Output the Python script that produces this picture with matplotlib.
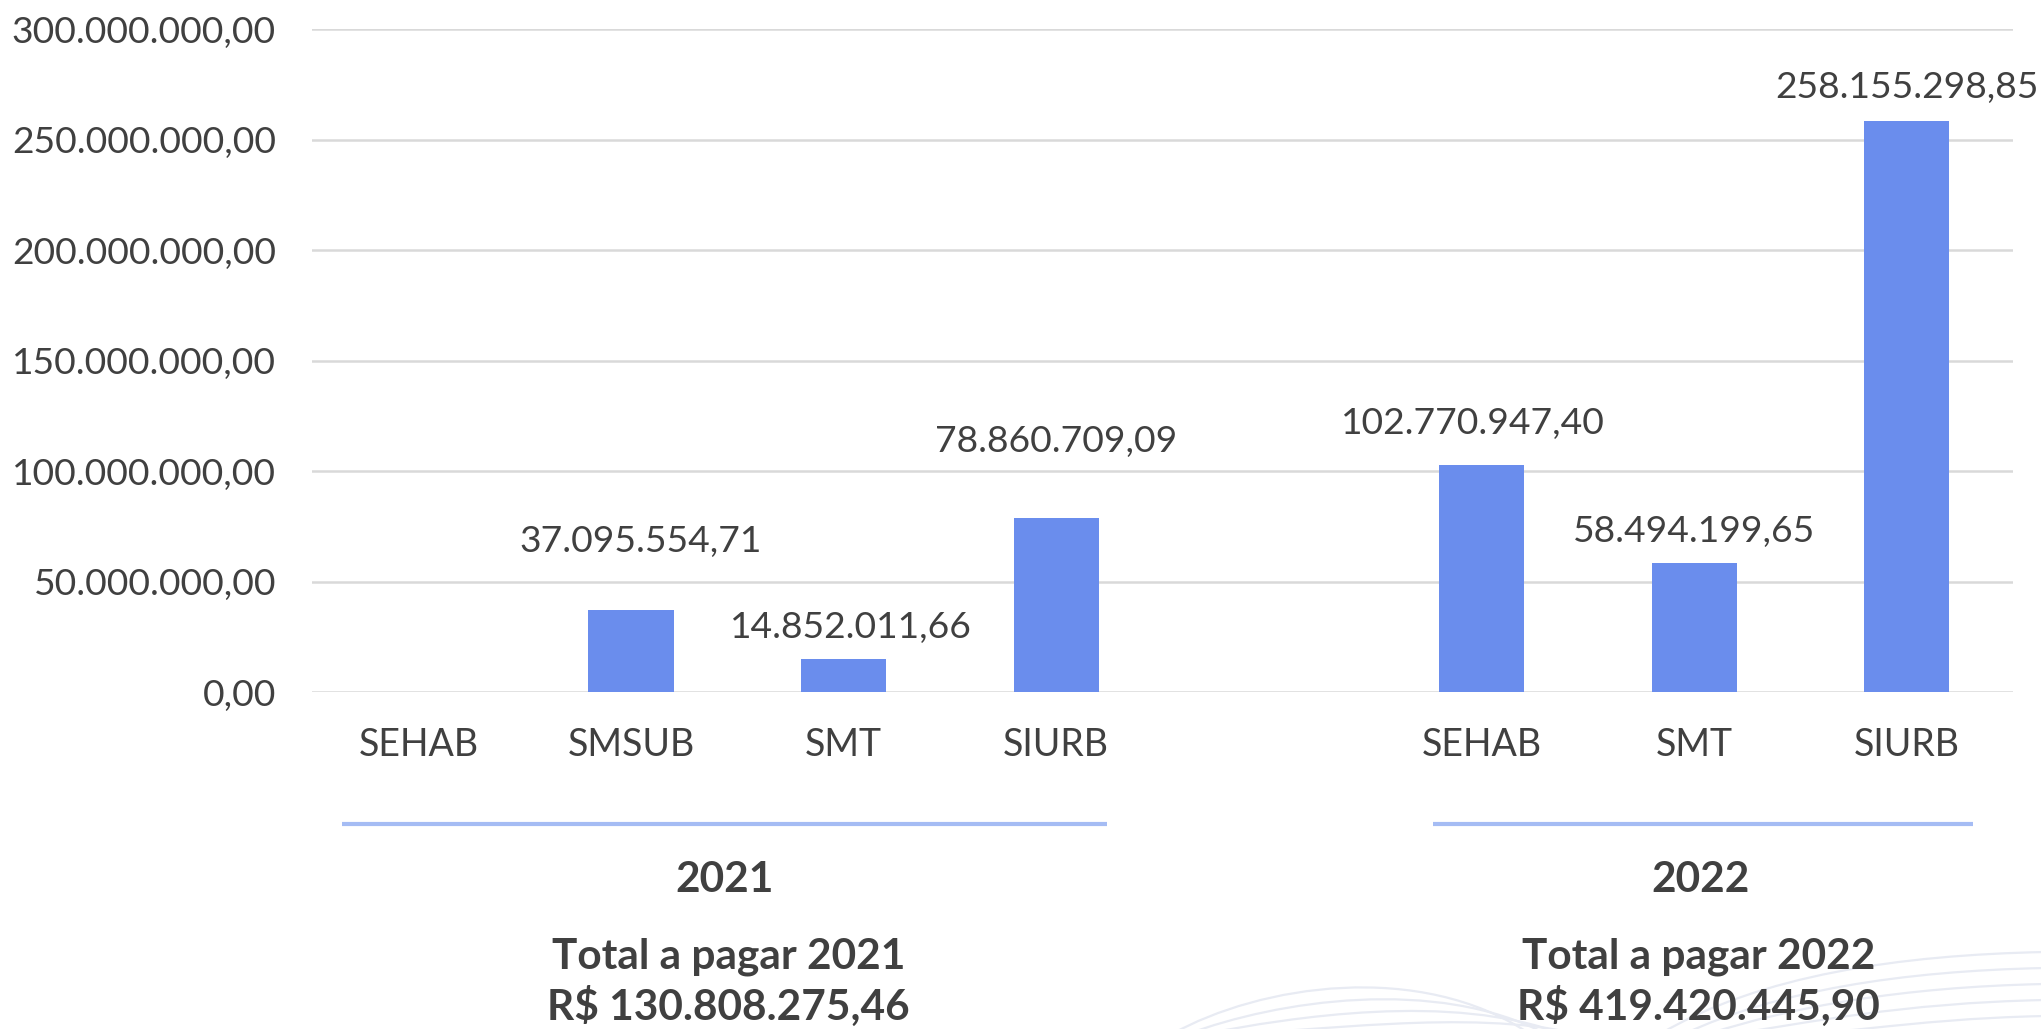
import matplotlib.pyplot as plt
import matplotlib.transforms as mtransforms
from matplotlib.path import Path
from matplotlib.patches import PathPatch

plt.rcParams['font.family'] = ['Lato', 'DejaVu Sans']

# data
categories = ["SEHAB", "SMSUB", "SMT", "SIURB", "SEHAB", "SMT", "SIURB"]
positions = [0, 1, 2, 3, 5, 6, 7]
values = [None, 37095554.71, 14852011.66, 78860709.09,
          102770947.40, 58494199.65, 258155298.85]
years = ["2021", "2022"]
totals = ["R$ 130.808.275,46", "R$ 419.420.445,90"]

# label offsets from each bar top (points)
label_dy = [0, 42, 15, 47, 22, 15, 17]
label_dx = [0, 7, 5, 0, -6, 0, 0]

bar_color = "#6a8ded"
text_color = "#404040"
grid_color = "#d9d9d9"
group_line_color = "#a5bcf4"
wave_color = "#e8ebf3"


def br_fmt(v):
    s = f"{v:,.2f}"
    return s.replace(",", "X").replace(".", ",").replace("X", ".")


fig = plt.figure(figsize=(20.41, 10.29), dpi=100)

# faint background waves, bottom right
W, H = 2041.0, 1029.0
for k in range(5):
    d = k * 16
    verts = [(1172 + d, H + 5), (1260 + d, 985 + d), (1420 + d, 960 + d),
             (1530 + d, H + 5)]
    p = Path([(x / W, 1 - y / H) for x, y in verts],
             [Path.MOVETO, Path.CURVE4, Path.CURVE4, Path.CURVE4])
    fig.add_artist(PathPatch(p, fill=False, edgecolor=wave_color, lw=1.6,
                             transform=fig.transFigure, zorder=0))
    verts = [(1660 + d * 1.5, H + 5), (1760 + d, 975 + d), (1900, 955 + d),
             (2045, 952 + d)]
    p = Path([(x / W, 1 - y / H) for x, y in verts],
             [Path.MOVETO, Path.CURVE4, Path.CURVE4, Path.CURVE4])
    fig.add_artist(PathPatch(p, fill=False, edgecolor=wave_color, lw=1.6,
                             transform=fig.transFigure, zorder=0))

ax = fig.add_axes([0.1529, 0.3275, 0.8334, 0.6443])
ax.patch.set_alpha(0)

xs = [p for p, v in zip(positions, values) if v is not None]
hs = [v for v in values if v is not None]
ax.bar(xs, hs, width=0.4, color=bar_color, zorder=3)

for p, v, dx, dy in zip(positions, values, label_dx, label_dy):
    if v is None:
        continue
    ax.annotate(br_fmt(v), (p, v), xytext=(dx, dy), textcoords="offset points",
                ha="center", va="baseline", fontsize=26.8, color=text_color)

ax.set_xlim(-0.5, 7.5)
ax.set_ylim(0, 300e6)
yticks = [0, 50e6, 100e6, 150e6, 200e6, 250e6, 300e6]
ax.set_yticks(yticks)
ax.set_yticklabels([br_fmt(t) for t in yticks])
ax.set_xticks(positions)
ax.set_xticklabels(categories)
ax.tick_params(axis="y", length=0, pad=26, labelsize=26.8, labelcolor=text_color)
ax.tick_params(axis="x", length=0, pad=25, labelsize=27, labelcolor=text_color)
ax.grid(axis="y", color=grid_color, linewidth=1.8, zorder=0)
for s in ax.spines.values():
    s.set_visible(False)

# group separators and titles
trans = mtransforms.blended_transform_factory(ax.transData, ax.transAxes)
ax.plot([-0.36, 3.24], [-0.199, -0.199], color=group_line_color, lw=3,
        transform=trans, clip_on=False, solid_capstyle="butt")
ax.plot([4.77, 7.31], [-0.199, -0.199], color=group_line_color, lw=3,
        transform=trans, clip_on=False, solid_capstyle="butt")

year_x = [1.44, 6.03]
tot_x = [1.46, 6.02]
for yx, tx, yr, tot in zip(year_x, tot_x, years, totals):
    ax.text(yx, -0.2836, yr, transform=trans, ha="center", va="center",
            fontsize=30.5, fontweight="bold", color=text_color)
    ax.text(tx, -0.40, f"Total a pagar {yr}", transform=trans,
            ha="center", va="center", fontsize=30.5, fontweight="bold",
            color=text_color)
    ax.text(tx, -0.474, tot, transform=trans, ha="center",
            va="center", fontsize=30.5, fontweight="bold", color=text_color)

fig.savefig("out.png", dpi=100)
